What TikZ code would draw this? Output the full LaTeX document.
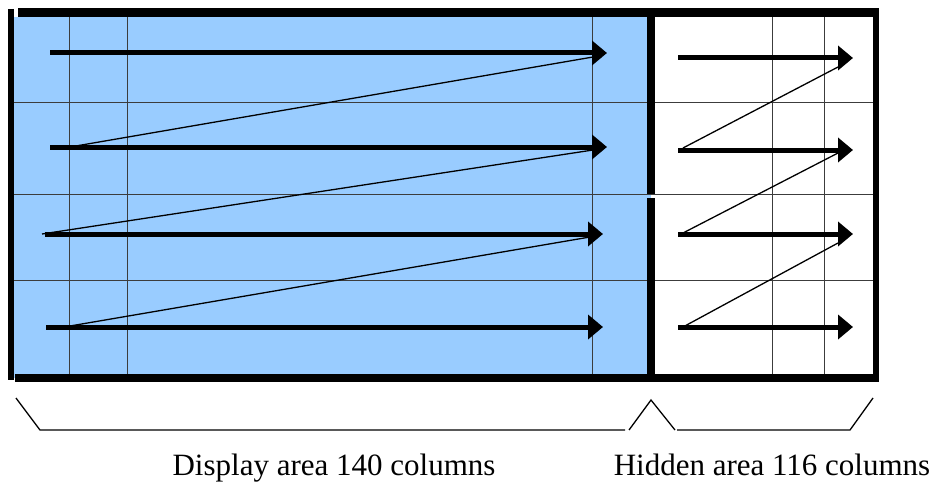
\documentclass[tikz,border=0pt]{standalone}
\usepackage{fontspec}
\setmainfont{Liberation Serif}
\usepackage{xcolor}
\usetikzlibrary{arrows.meta, positioning}
\definecolor{displayblue}{RGB}{153, 204, 255}
\definecolor{gridgray}{RGB}{60, 60, 60}

\begin{document}
\begin{tikzpicture}[
    x=1pt, y=-1pt,
    grid/.style={
        gridgray,
        line width=1pt
    },
    frame/.style={
        black,
        line width=7pt
    },
    scan/.style={
        -{Triangle[length=15pt, width=24pt]},
        line width=5pt,
        black
    },
    retrace/.style={
        black,
        line width=1.3pt
    },
    brace/.style={
        black,
        line width=1.3pt
    },
    label/.style={
        font=\fontsize{31}{35}\selectfont,
        anchor=base
    }
]

% Bounding box
\useasboundingbox (0,0) rectangle (939,484);

% Display area background
\fill[displayblue] (14,17) rectangle (651,378);

% Grid lines
\foreach \y in {103, 194, 280} {
    \draw[grid] (14,\y) -- (874,\y);
}
\foreach \x in {69, 127, 592, 772, 824} {
    \draw[grid] (\x,17) -- (\x,375);
}

% Outer frame and divider
\draw[frame, line width=6pt] (11,9) -- (11,380);
\draw[frame, line width=9pt] (18,12.5) -- (879,12.5);
\draw[frame, line width=6pt] (876,12) -- (876,382);
\draw[frame, line width=8pt] (15,378) -- (877,378);
\draw[frame, line width=8pt] (651,17) -- (651,194);
\draw[frame, line width=8pt] (651,198) -- (651,378);

% Scan line points, display area
\coordinate (ds1) at (50,53);  \coordinate (de1) at (607,53);
\coordinate (ds2) at (50,147); \coordinate (de2) at (607,147);
\coordinate (ds3) at (45,234); \coordinate (de3) at (603,234);
\coordinate (ds4) at (46,327); \coordinate (de4) at (603,327);

% Scan line points, hidden area
\coordinate (hs1) at (678,58);  \coordinate (he1) at (853,58);
\coordinate (hs2) at (678,150); \coordinate (he2) at (853,150);
\coordinate (hs3) at (678,234); \coordinate (he3) at (853,234);
\coordinate (hs4) at (678,327); \coordinate (he4) at (853,327);

% Retrace points
\coordinate (dr1) at (593,57);  \coordinate (dl2) at (70,147);
\coordinate (dr2) at (593,150); \coordinate (dl3) at (42,234);
\coordinate (dr3) at (590,237); \coordinate (dl4) at (70,326);
\coordinate (hr1) at (838,67);  \coordinate (hl2) at (683,148);
\coordinate (hr2) at (838,153); \coordinate (hl3) at (683,233);
\coordinate (hr3) at (838,243); \coordinate (hl4) at (683,327);

% Scan lines
\foreach \r in {1,...,4} {
    \draw[scan] (ds\r) -- (de\r);
    \draw[scan] (hs\r) -- (he\r);
}

% Retrace lines
\draw[retrace] (dl2) -- (dr1);
\draw[retrace] (dl3) -- (dr2);
\draw[retrace] (dl4) -- (dr3);
\draw[retrace] (hl2) -- (hr1);
\draw[retrace] (hl3) -- (hr2);
\draw[retrace] (hl4) -- (hr3);

% Braces
\draw[brace] (16,398) -- (40,430) -- (625,430);
\draw[brace] (629,430) -- (651,400) -- (675,430);
\draw[brace] (677,430) -- (850,430) -- (873,398);

% Labels
\node[label] (display) at (334,475) {Display area 140 columns};
\node[label] (hidden) at (772,475) {Hidden area 116 columns};

\end{tikzpicture}
\end{document}
